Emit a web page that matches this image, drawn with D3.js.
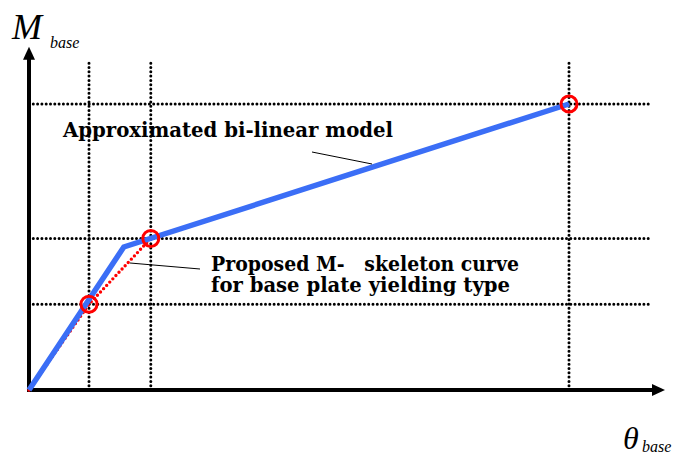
<!DOCTYPE html>
<meta charset="utf-8">
<style>
body { margin: 0; background: #fff; }
.grid { fill: none; stroke: #000; stroke-width: 3px; stroke-linecap: round; stroke-dasharray: 0 4.3; }
.axis { stroke: #000; stroke-width: 4px; }
.bilinear { fill: none; stroke: #3b6ef6; stroke-width: 5.5px; stroke-linejoin: miter; }
.proposed { fill: none; stroke: #ff0000; stroke-width: 3.4px; stroke-linecap: round; stroke-dasharray: 0 4.5; }
.mark { fill: none; stroke: #ff0000; stroke-width: 3px; }
.leader { stroke: #000; stroke-width: 1px; }
.note { font-family: "DejaVu Serif", serif; font-weight: bold; font-size: 20.5px; fill: #000; }
.sym { font-family: "Liberation Serif", serif; font-style: italic; fill: #000; }
</style>
<svg width="677" height="457"></svg>
<script src="https://d3js.org/d3.v7.min.js"></script>
<script>
// abstract units: rotation theta and moment M
var thetaGrid = [1.0, 2.03, 9.0];
var momentGrid = [3.0, 5.3, 10.0];
var bilinear = [[0, 0], [1.58, 5.0], [9.0, 10.0]];
var proposed = [[0, 0], [1.0, 3.0], [2.03, 5.3]];
var markers = [[1.0, 3.0], [2.03, 5.3], [9.0, 10.0]];

var svg = d3.select("svg");

var x = d3.scaleLinear().domain([0, 9]).range([29, 569]);
var y = d3.scaleLinear().domain([0, 10]).range([390, 104]);

var xMax = 10.6, yMax = 12.0;   // axis arrow tips
var gridX = 10.35, gridY = 11.55;

// dotted grid
svg.selectAll(".vgrid").data(thetaGrid).enter().append("line")
    .attr("class", "grid")
    .attr("x1", function(d) { return x(d); }).attr("x2", function(d) { return x(d); })
    .attr("y1", y(0)).attr("y2", y(gridY));
svg.selectAll(".hgrid").data(momentGrid).enter().append("line")
    .attr("class", "grid")
    .attr("x1", x(0)).attr("x2", x(gridX))
    .attr("y1", function(d) { return y(d); }).attr("y2", function(d) { return y(d); });

// axes with arrows
svg.append("line").attr("class", "axis")
    .attr("x1", x(0)).attr("y1", y(0) + 2).attr("x2", x(0)).attr("y2", y(yMax) + 12);
svg.append("line").attr("class", "axis")
    .attr("x1", x(0) - 2).attr("y1", y(0)).attr("x2", x(xMax) - 12).attr("y2", y(0));
svg.append("path")
    .attr("d", "M" + x(0) + "," + y(yMax) + "l-6,13h12z");
svg.append("path")
    .attr("d", "M" + x(xMax) + "," + y(0) + "l-13,-6v12z");

var line = d3.line().x(function(d) { return x(d[0]); }).y(function(d) { return y(d[1]); });

svg.append("path").datum(proposed).attr("class", "proposed").attr("d", line);
svg.append("path").datum(bilinear).attr("class", "bilinear").attr("d", line);

svg.selectAll(".mark").data(markers).enter().append("circle")
    .attr("class", "mark")
    .attr("cx", function(d) { return x(d[0]); })
    .attr("cy", function(d) { return y(d[1]); })
    .attr("r", 8);

// leaders
svg.append("line").attr("class", "leader")
    .attr("x1", 312).attr("y1", 152).attr("x2", 372).attr("y2", 164);
svg.append("line").attr("class", "leader")
    .attr("x1", 130).attr("y1", 263).attr("x2", 200).attr("y2", 269);

// notes
svg.append("text").attr("class", "note")
    .attr("x", 63).attr("y", 137)
    .attr("textLength", 330).attr("lengthAdjust", "spacingAndGlyphs")
    .text("Approximated bi-linear model");
svg.append("text").attr("class", "note")
    .attr("x", 211).attr("y", 271)
    .attr("textLength", 308).attr("lengthAdjust", "spacingAndGlyphs")
    .attr("xml:space", "preserve")
    .text("Proposed M-\u00a0\u00a0\u00a0skeleton curve");
svg.append("text").attr("class", "note")
    .attr("x", 211).attr("y", 292)
    .attr("textLength", 299).attr("lengthAdjust", "spacingAndGlyphs")
    .text("for base plate yielding type");

// axis symbols
svg.append("text").attr("class", "sym").attr("x", 12).attr("y", 39)
    .style("font-size", "36px").text("M");
svg.append("text").attr("class", "sym").attr("x", 50).attr("y", 48)
    .style("font-size", "16px").text("base");
svg.append("text").attr("class", "sym").attr("x", 623).attr("y", 449)
    .style("font-size", "32px").text("\u03b8");
svg.append("text").attr("class", "sym").attr("x", 642).attr("y", 452)
    .style("font-size", "16px").text("base");
</script>
